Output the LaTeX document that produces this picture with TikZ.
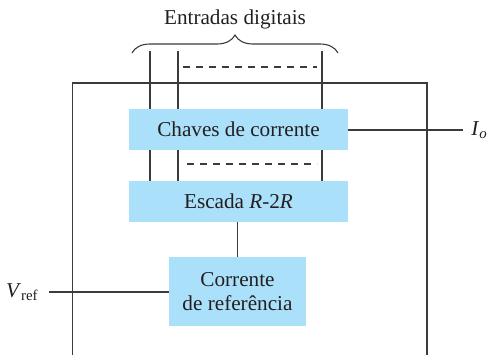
\documentclass[tikz,border=0pt]{standalone}
\usepackage{fontspec}
\setmainfont{Liberation Serif}
\definecolor{panel}{RGB}{170,224,250}
\definecolor{ink}{RGB}{35,31,32}
\definecolor{lead}{RGB}{60,58,60}
\usetikzlibrary{positioning,calc,decorations.pathreplacing}
\tikzset{
  blk/.style={fill=panel, draw=none, inner sep=0pt, align=center, text=ink,
              font=\fontsize{10.6}{12}\selectfont},
  wire/.style={lead, line width=0.65pt},
  elided/.style={lead, line width=0.65pt, dash pattern=on 3.4pt off 3.1pt},
  lbl/.style={text=ink, inner sep=0pt, font=\fontsize{10.6}{12}\selectfont},
}

\begin{document}
\begin{tikzpicture}[x=0.5pt,y=-0.5pt]
  \useasboundingbox (0,0) rectangle (488,354);
  % housing, open at the bottom
  \draw[wire] (72.7,356) -- (72.7,83) -- (427,83) -- (427,356);
  % blocks
  \node[blk, minimum width=109.5pt, minimum height=20.5pt] (chaves) at (238.5,129.5) {Chaves de corrente};
  \node[blk, minimum width=109.5pt, minimum height=20.5pt] (escada) at (238.5,201.5) {Escada \textit{R}-2\textit{R}};
  \node[blk, minimum width=68.5pt, minimum height=34.5pt] (corrente) at (237.5,291.5) {Corrente\\de referência};
  % digital inputs
  \coordinate (in1) at (150,51);
  \coordinate (in2) at (178,51);
  \coordinate (in3) at (322,51);
  \foreach \c in {in1,in2,in3} {
    \draw[wire] (\c) -- (\c |- chaves.north);
    \draw[wire] (chaves.south -| \c) -- (escada.north -| \c);
  }
  \draw[elided] (183,67) -- (317,67);
  \draw[elided] (187,164) -- (317,164);
  \draw[lead, line width=0.55pt, decorate, decoration={brace, amplitude=9pt}] (132,53) -- (338,53)
    node[lbl, midway, above=11.5pt] (entradas) {Entradas digitais};
  % output current
  \coordinate (out) at (463,130);
  \draw[wire] (chaves.east |- out) -- (out);
  \node[lbl, anchor=west, right=4pt of out] (io) {\textit{I}\textsubscript{\textit{o}}};
  % ladder to reference
  \draw[wire] (escada.south -| corrente.north) -- (corrente.north);
  % reference voltage
  \coordinate (vin) at (49,292);
  \draw[wire] (vin) -- (corrente.west |- vin);
  \node[lbl, anchor=east, left=5pt of vin] (vref) {\textit{V}\textsubscript{ref}};
\end{tikzpicture}
\end{document}
